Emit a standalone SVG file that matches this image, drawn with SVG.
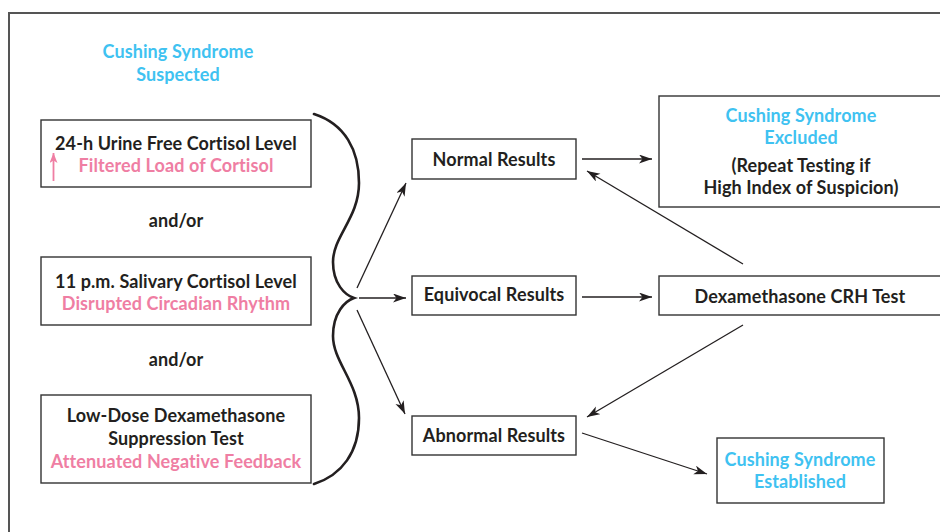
<svg xmlns="http://www.w3.org/2000/svg" width="940" height="532" viewBox="0 0 940 532">
<defs>
<marker id="ah" markerUnits="userSpaceOnUse" markerWidth="14" markerHeight="10" refX="13" refY="4.5" orient="auto">
<path d="M0,0 L13,4.5 L0,9 L3.5,4.5 z" fill="#231f20"/>
</marker>
<marker id="ahp" markerUnits="userSpaceOnUse" markerWidth="12" markerHeight="10" refX="10" refY="4" orient="auto">
<path d="M0,0 L10,4 L0,8 L2.5,4 z" fill="#ef7ea3"/>
</marker>
</defs>
<style>
text{font-family:Lato,"Open Sans","DejaVu Sans",sans-serif;font-weight:bold;font-size:18px;letter-spacing:0.1px;text-anchor:middle;fill:#231f20}
.b{fill:#3fc2f1}
.p{fill:#ef7ea3}
.box{fill:#fff;stroke:#333;stroke-width:1.4}
.conn line{stroke:#231f20;stroke-width:1.3;marker-end:url(#ah)}
</style>
<rect x="0" y="0" width="940" height="532" fill="#fff"/>
<rect x="9" y="13" width="945" height="540" fill="none" stroke="#555" stroke-width="2"/>

<g id="suspected">
<text x="178" y="58" class="b">Cushing Syndrome</text>
<text x="178" y="81" class="b">Suspected</text>
</g>

<g id="urine">
<rect class="box" x="41" y="120" width="270" height="67"/>
<text x="176" y="150">24-h Urine Free Cortisol Level</text>
<text x="176" y="172" class="p">Filtered Load of Cortisol</text>
<line x1="53.5" y1="181" x2="53.5" y2="153" stroke="#ef7ea3" stroke-width="1.8" marker-end="url(#ahp)"/>
</g>

<g id="andor1"><text x="176" y="227">and/or</text></g>

<g id="salivary">
<rect class="box" x="41" y="257" width="270" height="68"/>
<text x="176" y="288">11 p.m. Salivary Cortisol Level</text>
<text x="176" y="310" class="p">Disrupted Circadian Rhythm</text>
</g>

<g id="andor2"><text x="176" y="366">and/or</text></g>

<g id="lowdose">
<rect class="box" x="41" y="395" width="270" height="88"/>
<text x="176" y="422">Low-Dose Dexamethasone</text>
<text x="176" y="445">Suppression Test</text>
<text x="176" y="468" class="p">Attenuated Negative Feedback</text>
</g>

<g id="brace">
<path d="M314,114 C345,124 359,150 359,183 C359,218 333,236 333,262 C333,284 345,295 354,298 C345,301 333,313 333,336 C333,362 359,383 359,418 C359,452 342,475 314,484" fill="none" stroke="#231f20" stroke-width="2.6" stroke-linecap="round"/>
</g>

<g id="normal">
<rect class="box" x="412" y="139" width="164" height="40"/>
<text x="494" y="166">Normal Results</text>
</g>

<g id="equivocal">
<rect class="box" x="412" y="276" width="164" height="39"/>
<text x="494" y="301">Equivocal Results</text>
</g>

<g id="abnormal">
<rect class="box" x="412" y="416" width="164" height="39"/>
<text x="494" y="442">Abnormal Results</text>
</g>

<g id="excluded">
<rect class="box" x="659" y="96" width="285" height="111"/>
<text x="801" y="122" class="b">Cushing Syndrome</text>
<text x="801" y="144" class="b">Excluded</text>
<text x="801" y="172">(Repeat Testing if</text>
<text x="801" y="194">High Index of Suspicion)</text>
</g>

<g id="dexcrh">
<rect class="box" x="659" y="276" width="285" height="39"/>
<text x="800" y="303">Dexamethasone CRH Test</text>
</g>

<g id="established">
<rect class="box" x="717" y="438" width="167" height="65"/>
<text x="800" y="466" class="b">Cushing Syndrome</text>
<text x="800" y="488" class="b">Established</text>
</g>

<g id="connectors" class="conn">
<line x1="357" y1="288" x2="406" y2="183"/>
<line x1="359" y1="298" x2="406" y2="298"/>
<line x1="357" y1="310" x2="405" y2="414"/>
<line x1="582" y1="159" x2="652" y2="159"/>
<line x1="582" y1="297" x2="652" y2="297"/>
<line x1="743" y1="264" x2="587" y2="171"/>
<line x1="743" y1="325" x2="587" y2="417"/>
<line x1="582" y1="433" x2="707" y2="474"/>
</g>
</svg>
